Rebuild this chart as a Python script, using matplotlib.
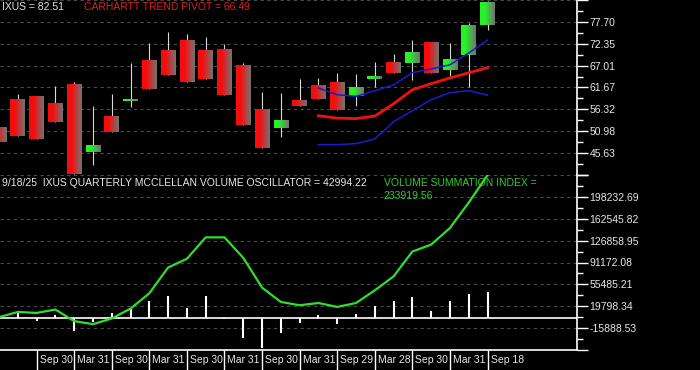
import numpy as np
import matplotlib
matplotlib.use('Agg')
import matplotlib.pyplot as plt
from matplotlib.transforms import offset_copy

# ── Données (trimestrielles, IXUS) ─────────────────────────────
opens  = [51.95, 58.70, 59.40, 57.70, 62.30, 45.80, 54.60, 58.30, 68.20, 70.65,
          73.10, 70.80, 71.05, 67.00, 56.25, 51.70, 58.50, 62.10, 62.90, 59.70,
          63.85, 67.75, 67.75, 72.45, 66.05, 69.70, 76.95]
highs  = [59.10, 60.10, 59.60, 62.10, 63.10, 57.20, 60.10, 67.70, 72.45, 75.20,
          74.80, 74.05, 72.20, 67.75, 60.45, 60.30, 63.85, 64.10, 65.30, 65.00,
          67.90, 69.85, 73.25, 72.60, 72.45, 77.45, 82.70]
lows   = [48.30, 49.80, 49.00, 53.20, 40.50, 42.70, 50.70, 56.80, 61.35, 64.75,
          62.90, 63.80, 59.90, 52.40, 46.85, 49.60, 57.20, 58.75, 56.25, 57.05,
          61.75, 65.30, 63.50, 65.10, 64.50, 61.75, 75.70]
closes = [48.30, 49.80, 49.00, 53.20, 40.50, 47.30, 50.70, 58.75, 61.35, 64.75,
          62.90, 63.80, 59.90, 52.40, 46.85, 53.60, 57.20, 58.75, 56.25, 61.80,
          64.50, 65.30, 70.20, 65.10, 68.65, 76.90, 82.51]

# Carhartt trend pivot + bandes (à partir de la 18e barre)
band_start = 17
pivot = [54.76, 54.18, 54.06, 54.67, 57.70, 61.10, 62.60, 64.00, 65.25, 66.49]
upper = [61.52, 59.90, 59.50, 60.86, 62.30, 65.30, 66.20, 67.20, 70.10, 73.25]
lower = [47.70, 47.70, 47.95, 49.10, 53.30, 56.00, 58.70, 60.40, 60.90, 59.80]

# McClellan volume oscillator + summation index
osc = [3000, 8900, -4000, 5200, -20300, -5700, 8900, 16000, 28400, 36000,
       17700, 36000, -1800, -32600, -47800, -23500, -7300, 5200, -9400, 7900,
       19800, 27900, 34400, 11700, 27900, 39300, 42994.22]
vsi = [2000, 10500, 8900, 14400, -4500, -9400, -200, 16000, 40900, 83000,
       97200, 132200, 132200, 98800, 50100, 26800, 21400, 25100, 18700, 25100,
       45700, 68500, 109000, 120400, 147500, 189000, 233919.56]

# Échelles de droite
price_ticks  = [83.045, 77.70, 72.35, 67.01, 61.67, 56.32, 50.98, 45.63, 40.285]
price_labels = ['', '77.70', '72.35', '67.01', '61.67', '56.32', '50.98', '45.63', '']
osc_ticks  = [233919.56, 198232.69, 162545.82, 126858.95, 91172.08, 55485.21,
              19798.34, -15888.53, -51575.40]
osc_labels = ['', '198232.69', '162545.82', '126858.95', '91172.08', '55485.21',
              '19798.34', '-15888.53', '']

# Axe des dates
date_idx    = [2, 4, 6, 8, 10, 12, 14, 16, 18, 20, 22, 24, 26]
date_labels = ['Sep 30', 'Mar 31', 'Sep 30', 'Mar 31', 'Sep 30', 'Mar 31', 'Sep 30',
               'Mar 31', 'Sep 29', 'Mar 28', 'Sep 30', 'Mar 31', 'Sep 18']

# ── Style ─────────────────────────────────────────────────────
plt.rcParams['font.family'] = ['Liberation Sans', 'DejaVu Sans']
FS = 7.5
BG = 'black'
GRID = '#4a4a4a'
GRAY = np.array([0.45, 0.45, 0.45])
RED = np.array([0.97, 0.05, 0.05])
GREEN = np.array([0.15, 0.95, 0.15])

W, H = 700, 370
fig = plt.figure(figsize=(W / 100, H / 100), dpi=100, facecolor=BG)
right = 577 / W
ax1 = fig.add_axes([0, (H - 175) / H, right, 175 / H], facecolor=BG)
ax2 = fig.add_axes([0, (H - 350) / H, right, 175 / H], facecolor=BG)
ax3 = fig.add_axes([0, 0, right, (H - 350) / H], facecolor=BG)

n = len(opens)
x = np.arange(n)
px = 18.79                        # pixels par barre
xlim = (0.5 / px, (577 + 0.5) / px)
x0 = -0.5 / px                     # décalage de la 1re barre
xs = x + x0

# ── Panneau prix ──────────────────────────────────────────────
ax1.vlines(xs, lows, highs, color='#d8d8d8', lw=0.8, zorder=2)
t = np.linspace(0, 1, 24)
wgt = np.clip((t - 0.3) / 0.7, 0, 1)[:, None]
half = 0.39
for i in range(n):
    o, c = opens[i], closes[i]
    base = GREEN if c >= o else RED
    grad = (base * (1 - wgt) + GRAY * wgt)[None, :, :]
    lo, hi = min(o, c), max(o, c)
    if hi - lo < 0.45:
        hi = lo + 0.45
    ax1.imshow(grad, extent=[xs[i] - half, xs[i] + half, lo, hi],
               aspect='auto', interpolation='bilinear', zorder=3)

bx = xs[band_start:]
ax1.plot(bx, upper, color='#1c1ccc', lw=1.1, zorder=4)
ax1.plot(bx, lower, color='#1c1ccc', lw=1.1, zorder=4)
ax1.plot(bx, pivot, color='#ee1111', lw=2.0, zorder=4)

ax1.set_ylim(price_ticks[-1], price_ticks[0])
ax1.set_yticks(price_ticks)
ax1.set_yticklabels(price_labels)
mids = [(a + b) / 2 for a, b in zip(price_ticks[:-1], price_ticks[1:])]
ax1.set_yticks(mids, minor=True)

ax1.text(0.003, 1 - 7.5 / 175, f'IXUS = {closes[-1]:.2f}', transform=ax1.transAxes,
         color='#e0e0e0', fontsize=FS, va='center')
ax1.text(83.5 / 577, 1 - 7.5 / 175, f'CARHARTT TREND PIVOT = {pivot[-1]:.2f}',
         transform=ax1.transAxes, color='#dd2020', fontsize=FS, va='center')

# ── Panneau oscillateur ───────────────────────────────────────
ax2.axhline(0, color='white', lw=1.2, zorder=2)
ax2.vlines(xs, 0, osc, color='white', lw=1.5, zorder=3)
ax2.plot(xs, vsi, color='#30dd30', lw=1.6, zorder=4)

ax2.set_ylim(osc_ticks[-1], osc_ticks[0])
ax2.set_yticks(osc_ticks)
ax2.set_yticklabels(osc_labels)
mids2 = [(a + b) / 2 for a, b in zip(osc_ticks[:-1], osc_ticks[1:])]
ax2.set_yticks(mids2, minor=True)

ax2.text(0.003, 1 - 8 / 175, f'9/18/25  IXUS QUARTERLY MCCLELLAN VOLUME OSCILLATOR = {osc[-1]:.2f}',
         transform=ax2.transAxes, color='#e8e8e8', fontsize=FS, va='center')
ax2.text(383.5 / 577, 1 - 8 / 175, 'VOLUME SUMMATION INDEX =',
         transform=ax2.transAxes, color='#30cc30', fontsize=FS, va='center')
ax2.text(383.5 / 577, 1 - 20.5 / 175, f'{vsi[-1]:.2f}',
         transform=ax2.transAxes, color='#30cc30', fontsize=FS, va='center')

for ax in (ax1, ax2):
    ax.set_xlim(*xlim)
    ax.set_xticks([])
    ax.yaxis.tick_right()
    ax.grid(True, axis='y', which='major', color=GRID, ls=(0, (3, 3)), lw=0.8)
    ax.tick_params(axis='y', which='major', colors='white', length=8, width=1,
                   labelsize=FS, pad=1, labelcolor='#e8e8e8')
    ax.tick_params(axis='y', which='minor', colors='white', length=4, width=1)
    for s in ('top', 'left', 'bottom'):
        ax.spines[s].set_visible(False)
    ax.spines['right'].set_color('white')
    ax.spines['right'].set_linewidth(1.2)
ax2.spines['bottom'].set_visible(True)
ax2.spines['bottom'].set_color('white')
ax2.spines['bottom'].set_linewidth(1.2)

# ── Bandeau des dates ─────────────────────────────────────────
ax3.set_xlim(*xlim)
ax3.set_ylim(0, 1)
ax3.axis('off')
ax3.vlines(np.array(date_idx) + x0, 0, 1, color='white', lw=1.0)
tr = offset_copy(ax3.transData, fig=fig, x=3, y=0, units='dots')
for i, lbl in zip(date_idx, date_labels):
    ax3.text(i + x0, 0.5, lbl, transform=tr, color='#e8e8e8', fontsize=FS,
             ha='left', va='center')

fig.savefig('out.png', dpi=100, facecolor=BG)
